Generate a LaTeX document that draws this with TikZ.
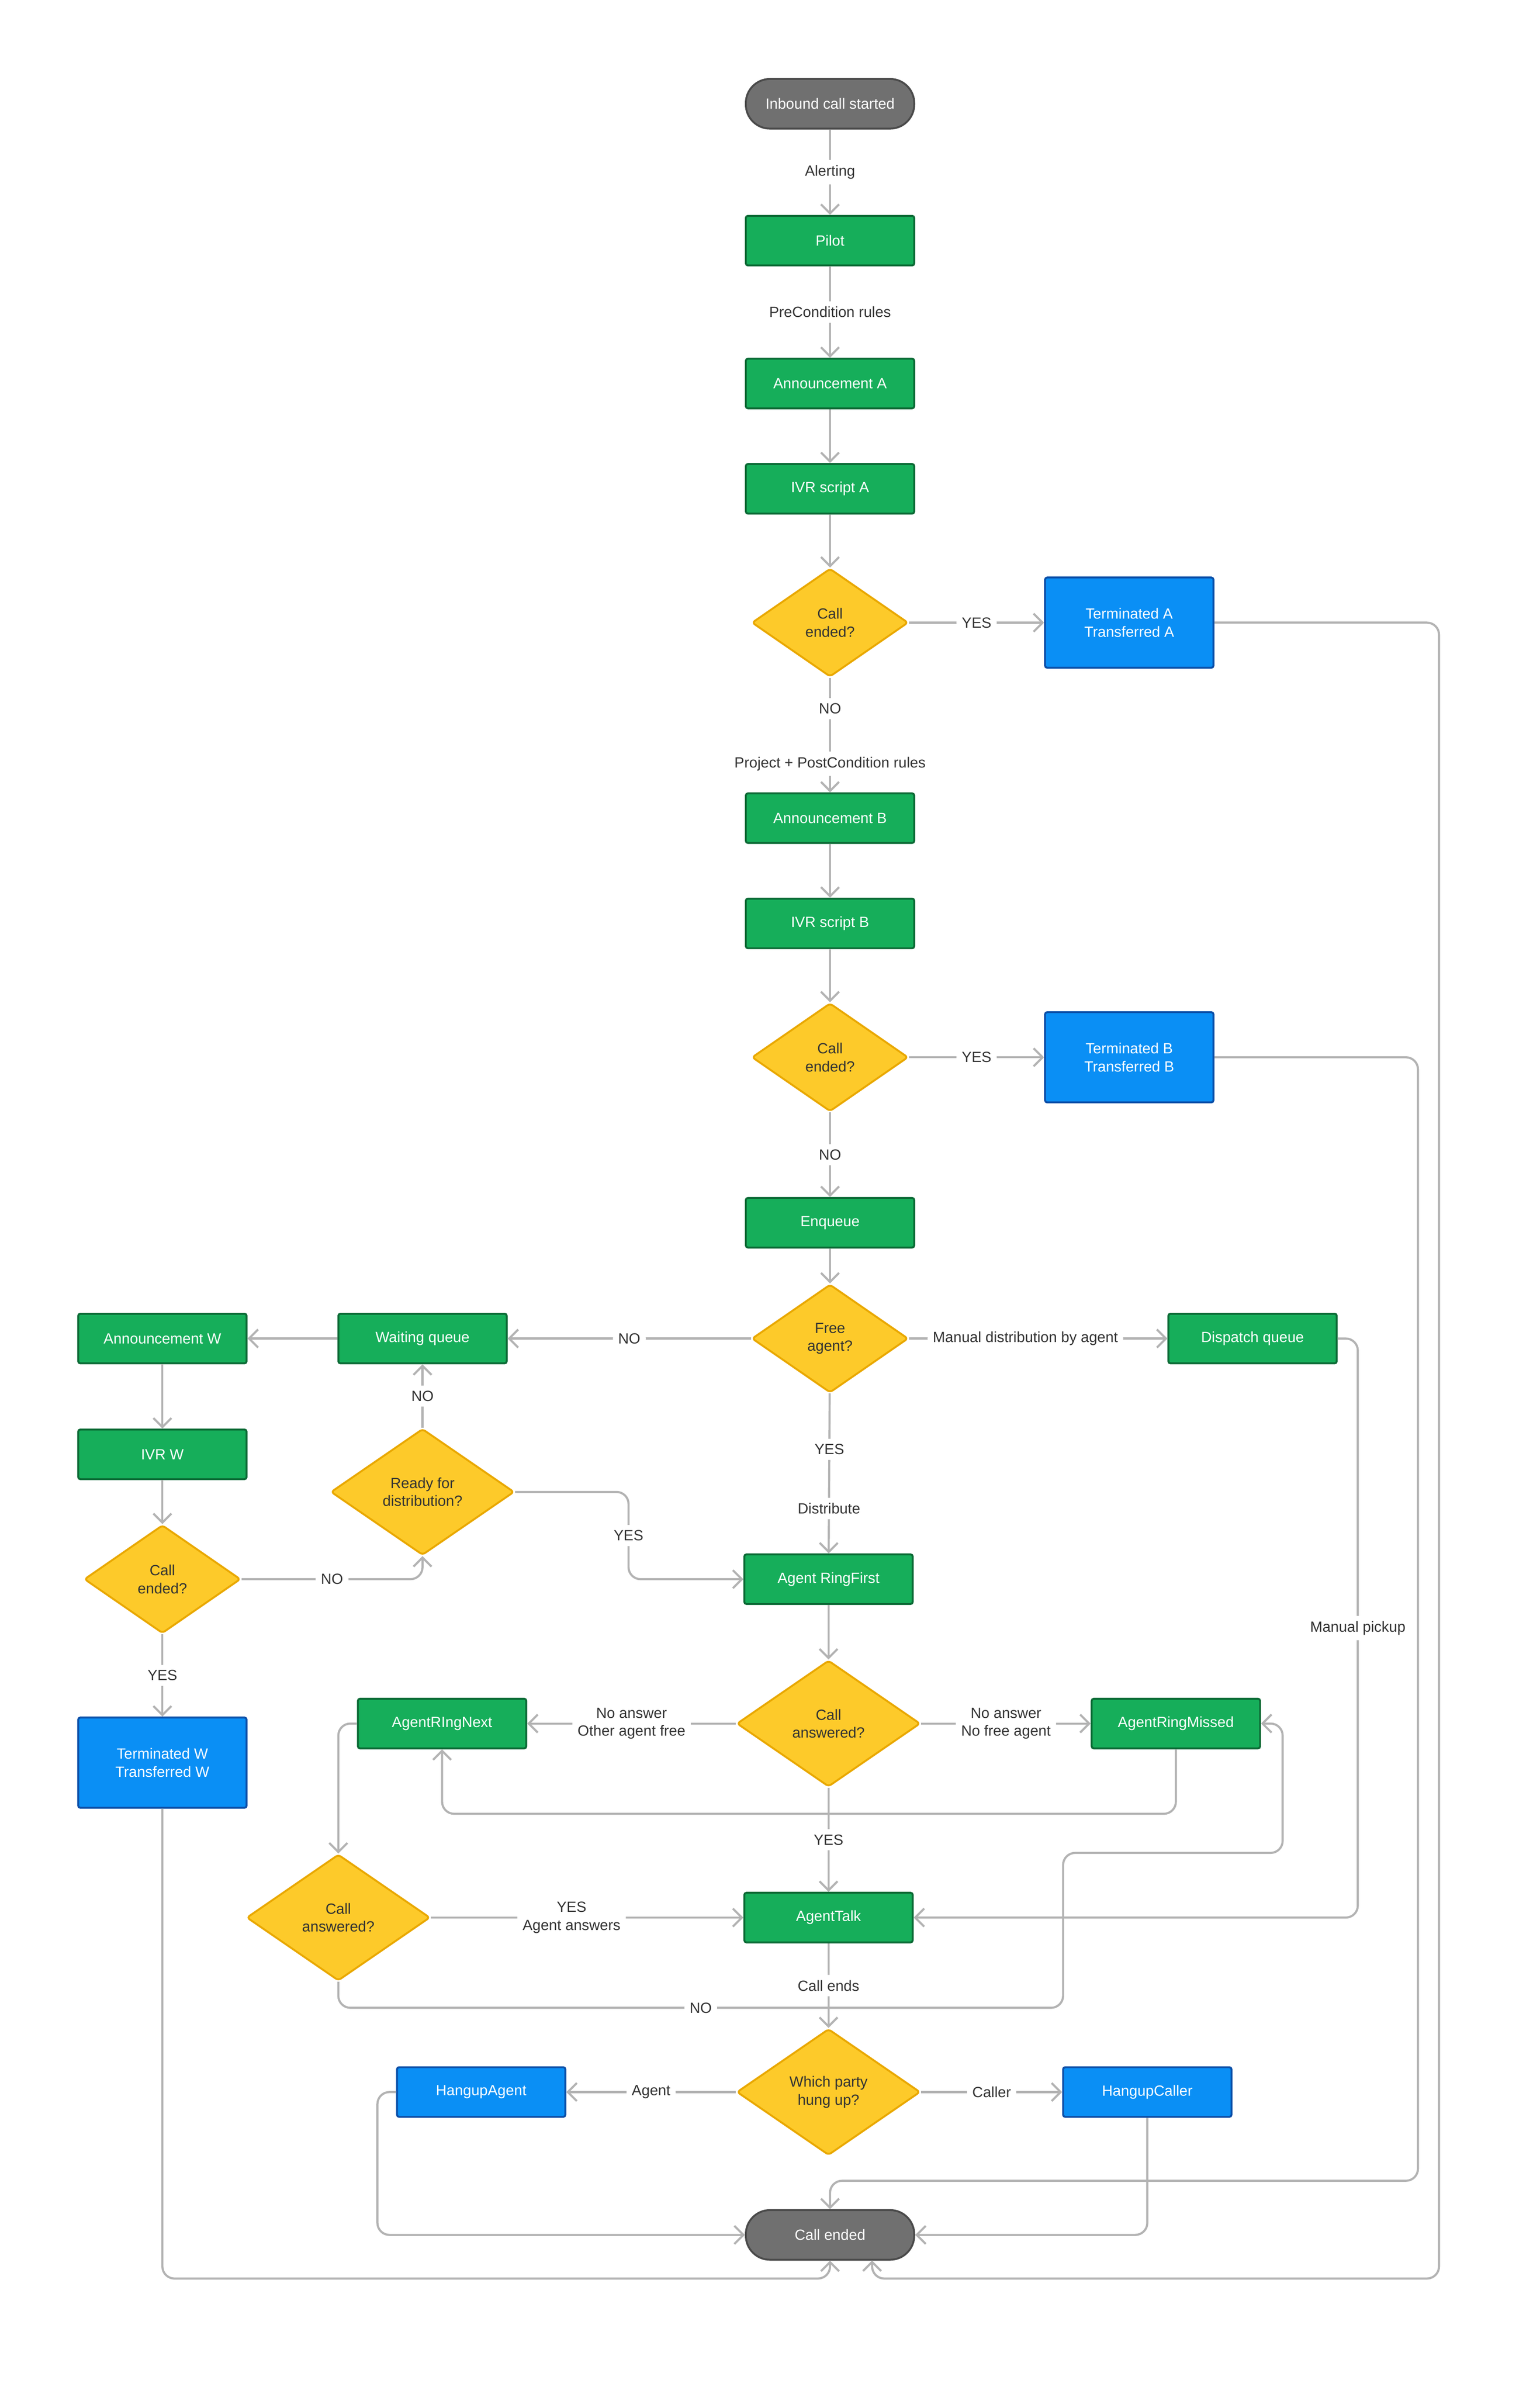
\documentclass[tikz,border=0pt]{standalone}
\usepackage{fontspec}
\setmainfont{Liberation Sans}
\usetikzlibrary{shapes.geometric,arrows.meta}
\definecolor{gfill}{HTML}{16AE5A}\definecolor{gline}{HTML}{0B6A35}
\definecolor{bfill}{HTML}{0A8FF5}\definecolor{bline}{HTML}{0A4FA8}
\definecolor{yfill}{HTML}{FDCA2A}\definecolor{yline}{HTML}{E9A800}
\definecolor{pfill}{HTML}{707070}\definecolor{pline}{HTML}{4A4A4A}
\definecolor{conc}{HTML}{B3B3B3}\definecolor{txt}{HTML}{333333}
\begin{document}
\begin{tikzpicture}[x=0.05cm,y=-0.05cm,
  font=\fontsize{14}{17}\selectfont,
  box/.style={rectangle,rounded corners=2pt,line width=1.8pt,minimum width=5.6cm,minimum height=1.65cm,text=white,align=center},
  green/.style={box,fill=gfill,draw=gline},
  blue/.style={box,fill=bfill,draw=bline,minimum height=3cm},
  pill/.style={box,fill=pfill,draw=pline,rounded corners=0.8cm},
  dia/.style={diamond,fill=yfill,draw=yline,line width=1.8pt,rounded corners=3pt,minimum width=5.2cm,minimum height=3.6cm,inner sep=0pt,text=txt,align=center},
  bdia/.style={dia,minimum width=6.1cm,minimum height=4.2cm},
  conn/.style={draw=conc,line width=2pt,rounded corners=0.4cm,-{Straight Barb[length=0.3cm,width=0.6cm]}},
  lbl/.style={fill=white,text=txt,align=center,inner sep=5pt}]
\useasboundingbox (0,0) rectangle (1024,1591.8);
\fill[white] (0,0) rectangle (1024,1591.8);
% nodes
\node[pill] (start) at (552,69) {Inbound call started};
\node[green] (pilot) at (552,160) {Pilot};
\node[green] (anna) at (552,255) {Announcement A};
\node[green] (ivra) at (552,325) {IVR script A};
\node[dia] (d1) at (552,414) {Call\\ended?};
\node[blue] (terma) at (751,414) {Terminated A\\Transferred A};
\node[green] (annb) at (552,544) {Announcement B};
\node[green] (ivrb) at (552,614) {IVR script B};
\node[dia] (d2) at (552,703) {Call\\ended?};
\node[blue] (termb) at (751,703) {Terminated B\\Transferred B};
\node[green] (enq) at (552,813) {Enqueue};
\node[dia] (d3) at (552,890) {Free\\agent?};
\node[green] (disp) at (833,890) {Dispatch queue};
\node[green] (wait) at (281,890) {Waiting queue};
\node[green] (annw) at (108,890) {Announcement W};
\node[green] (ivrw) at (108,967) {IVR W};
\node[bdia] (d4) at (281,992) {Ready for\\distribution?};
\node[dia] (d5) at (108,1050) {Call\\ended?};
\node[blue] (termw) at (108,1172) {Terminated W\\Transferred W};
\node[green] (arf) at (551,1050) {Agent RingFirst};
\node[bdia] (d6) at (551,1146) {Call\\answered?};
\node[green] (arn) at (294,1146) {AgentRIngNext};
\node[green] (arm) at (782,1146) {AgentRingMissed};
\node[bdia] (d7) at (225,1275) {Call\\answered?};
\node[green] (talk) at (551,1275) {AgentTalk};
\node[bdia] (d8) at (551,1391) {Which party\\hung up?};
\node[blue,minimum height=1.65cm] (ha) at (320,1391) {HangupAgent};
\node[blue,minimum height=1.65cm] (hc) at (763,1391) {HangupCaller};
\node[pill] (end) at (552,1486) {Call ended};
% connectors
\draw[conn] (start) -- node[lbl]{Alerting} (pilot);
\draw[conn] (pilot) -- node[lbl]{PreCondition rules} (anna);
\draw[conn] (anna) -- (ivra);
\draw[conn] (ivra) -- (d1);
\draw[conn] (d1) -- node[lbl]{YES} (terma);
\draw[conn] (d1) -- node[lbl,pos=0.27]{NO} node[lbl,pos=0.75]{Project + PostCondition rules} (annb);
\draw[conn] (annb) -- (ivrb);
\draw[conn] (ivrb) -- (d2);
\draw[conn] (d2) -- node[lbl]{YES} (termb);
\draw[conn] (d2) -- node[lbl]{NO} (enq);
\draw[conn] (enq) -- (d3);
\draw[conn] (d3) -- node[lbl,pos=0.45]{Manual distribution by agent} (disp);
\draw[conn] (d3) -- node[lbl]{NO} (wait);
\draw[conn] (wait) -- (annw);
\draw[conn] (annw) -- (ivrw);
\draw[conn] (ivrw) -- (d5);
\draw[conn] (d5.east) -- node[lbl]{NO} (281,1050) -- (d4.south);
\draw[conn] (d4) -- node[lbl]{NO} (wait);
\draw[conn] (d4.east) -- (418,992) -- node[lbl]{YES} (418,1050) -- (arf.west);
\draw[conn] (d5) -- node[lbl]{YES} (termw);
\draw[conn] (d3) -- node[lbl,pos=0.35]{YES} node[lbl,pos=0.72]{Distribute} (arf);
\draw[conn] (arf) -- (d6);
\draw[conn] (d6) -- node[lbl]{No answer\\Other agent free} (arn);
\draw[conn] (d6) -- node[lbl]{No answer\\No free agent} (arm);
\draw[conn] (arm.south) -- (782,1206) -- (294,1206) -- (arn.south);
\draw[conn] (d6) -- node[lbl]{YES} (talk);
\draw[conn] (arn.west) -- (225,1146) -- (d7.north);
\draw[conn] (d7) -- node[lbl,pos=0.45]{YES\\Agent answers} (talk);
\draw[conn] (talk) -- node[lbl]{Call ends} (d8);
\draw[conn] (d7.south) -- (225,1335) -- node[lbl,pos=0.5]{NO} (707,1335) -- (707,1232) -- (853,1232) -- (853,1146) -- (arm.east);
\draw[conn] (disp.east) -- (903,890) -- node[lbl,pos=0.5]{Manual pickup} (903,1275) -- (talk.east);
\draw[conn] (d8) -- node[lbl]{Agent} (ha);
\draw[conn] (d8) -- node[lbl]{Caller} (hc);
\draw[conn] (ha.west) -- (251,1391) -- (251,1486) -- (end.west);
\draw[conn] (hc.south) -- (763,1486) -- (end.east);
\draw[conn] (termb.east) -- (943,703) -- (943,1450) -- (552,1450) -- (end.north);
\draw[conn] (terma.east) -- (957,414) -- (957,1515) -- (580,1515) -- (580,1503);
\draw[conn] (termw.south) -- (108,1515) -- (552,1515) -- (end.south);
\end{tikzpicture}
\end{document}
